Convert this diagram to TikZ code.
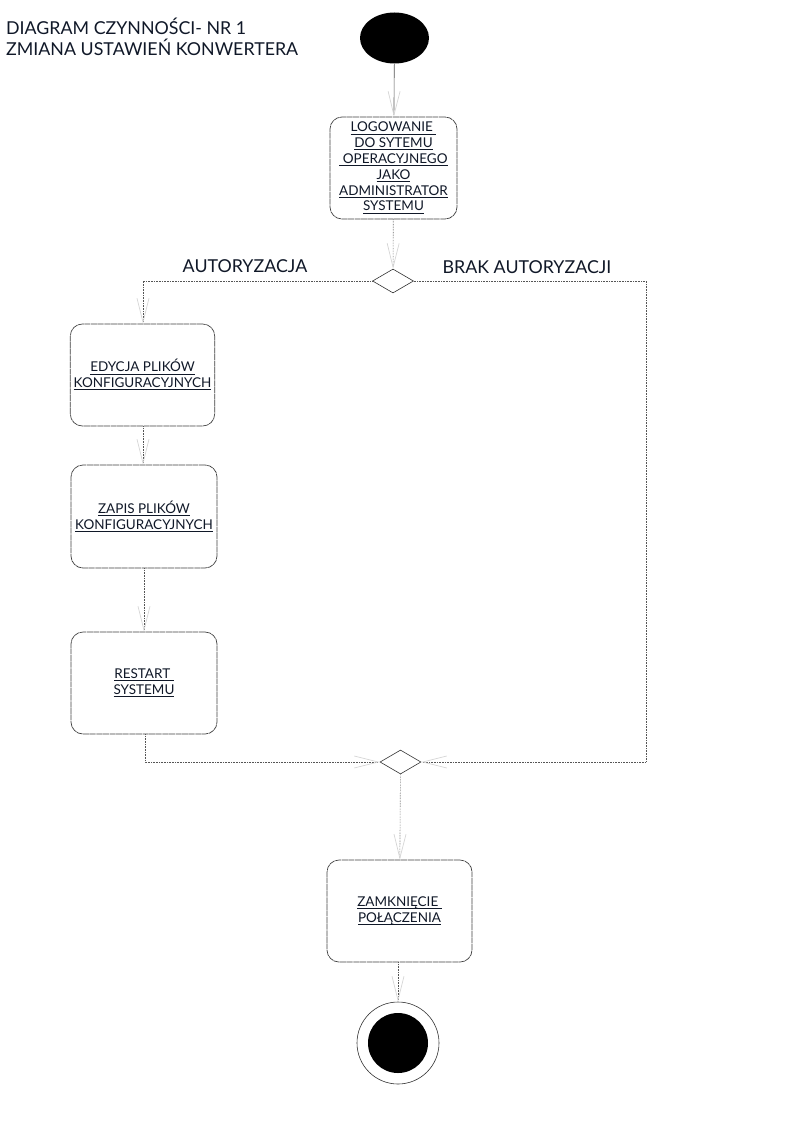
\documentclass[tikz,border=0pt]{standalone}
\usepackage{amsmath}
\usepackage{fontspec}
\setmainfont{Lato}
\usetikzlibrary{arrows.meta,shapes.geometric}
\definecolor{txt}{HTML}{101828}
\definecolor{flow}{HTML}{555555}
\definecolor{tipc}{HTML}{D4D4D4}
\tikzset{
  action/.style={draw=black!75, line width=0.7pt, dash pattern=on 6pt off 0.6pt,
    rounded corners=12pt, fill=white, minimum width=#1, align=center,
    font=\fontsize{13.5}{15.8}\selectfont, text=txt},
  decision/.style={diamond, draw=black!80, line width=0.6pt, fill=white,
    minimum width=41pt, minimum height=24pt, inner sep=0pt, aspect=1.7},
  flowline/.style={draw=flow, line width=0.6pt, densely dotted,
    -{Straight Barb[length=24pt,width=12pt,color=tipc,line width=0.7pt]}},
  label/.style={font=\fontsize{17.8}{21}\selectfont, text=txt}
}
% underlined activity text; descenders do not push the rule down
\newcommand{\ul}[1]{\underline{\smash[b]{#1}}}
\begin{document}
\begin{tikzpicture}[x=1pt,y=-1pt]
\useasboundingbox (0,0) rectangle (794,1123);

% title
\node[label, anchor=north west, align=left, inner sep=0pt] (title) at (6,18)
  {DIAGRAM CZYNNOŚCI- NR 1\\ZMIANA USTAWIEŃ KONWERTERA};

% initial and final states
\node[ellipse, fill=black, minimum width=69pt, minimum height=51pt, inner sep=0pt] (start) at (394.5,38) {};
\node[circle, draw=black!80, line width=0.6pt, fill=white, minimum size=82pt, inner sep=0pt] (finish) at (398,1043) {};
\node[circle, fill=black, minimum size=60pt, inner sep=0pt] at (finish) {};

% activities
\node[action=127pt, minimum height=102pt] (login) at (393.5,168)
  {\ul{LOGOWANIE }\\\ul{DO SYTEMU}\\\ul{ OPERACYJNEGO}\\\ul{JAKO}\\\ul{ADMINISTRATOR}\\\ul{SYSTEMU}};
\node[action=143pt, minimum height=102pt] (edit) at (142.5,375)
  {\ul{EDYCJA PLIKÓW}\\\ul{KONFIGURACYJNYCH}};
\node[action=146pt, minimum height=103pt] (save) at (144,516.5)
  {\ul{ZAPIS PLIKÓW}\\\ul{KONFIGURACYJNYCH}};
\node[action=146pt, minimum height=102pt] (restart) at (144,683)
  {\ul{RESTART }\\\ul{SYSTEMU}};
\node[action=145pt, minimum height=102pt] (close) at (399.5,911)
  {\ul{ZAMKNIĘCIE }\\\ul{POŁĄCZENIA}};

% decision and merge
\node[decision] (auth) at (393,281) {};
\node[decision] (merge) at (400.5,762) {};

% branch labels
\node[label] (yes) at (245,266) {AUTORYZACJA};
\node[label] (no) at (527,267) {BRAK AUTORYZACJI};

% corner points of the routed connectors
\coordinate (lt) at (143,281);
\coordinate (rt) at (646,281);
\coordinate (lb) at (145,762);
\coordinate (rb) at (646,762);

% flows
\draw[flowline, solid] (start) -- (login);
\draw[flowline] (login) -- (auth);
\draw[flowline] (auth.west) -- (lt) -- (edit.north -| lt);
\draw[flowline] (edit.south -| lt) -- (save.north -| lt);
\draw[flowline] (save) -- (restart);
\draw[flowline] (restart.south -| lb) -- (lb) -- (merge.west);
\draw[flowline] (auth.east) -- (rt) -- (rb) -- (merge.east);
\draw[flowline] (merge) -- (close);
\draw[flowline] (close.south -| finish) -- (finish);
\end{tikzpicture}
\end{document}
